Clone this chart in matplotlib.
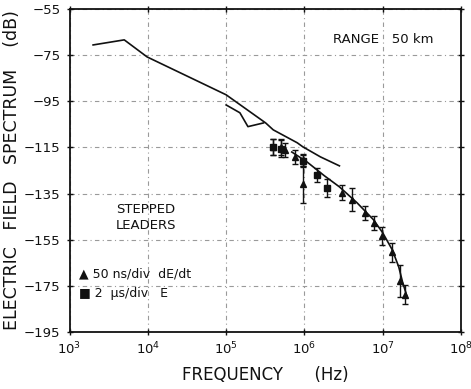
import matplotlib
matplotlib.use('Agg')
import matplotlib.pyplot as plt
from matplotlib.ticker import FixedLocator, LogLocator, NullLocator

# measured spectra (solid curves)
curve_a_f = [2.0e3, 5.0e3, 9.8e3, 1.0e5, 3.2e5, 4.0e5, 8.1e5, 9.5e5, 1.6e6, 2.8e6]
curve_a_db = [-70.6, -68.4, -75.8, -92.2, -104.4, -107.4, -113.0, -114.7, -119.1, -123.0]

curve_b_f = [1.0e5, 1.5e5, 1.9e5, 3.0e5]
curve_b_db = [-96.6, -100.0, -106.0, -104.4]

curve_c_f = [6.9e5, 1.07e6, 1.8e6, 2.8e6, 4.7e6, 7.6e6, 1.0e7, 1.32e7, 1.6e7, 1.8e7, 2.05e7]
curve_c_db = [-117.0, -121.2, -127.3, -132.1, -139.0, -146.3, -152.0, -159.3, -166.7, -173.6, -179.7]

# 50 ns/div dE/dt (triangles)
tri_f = [4.0e5, 5.0e5, 5.6e5, 7.6e5, 9.5e5, 9.5e5, 3.0e6, 4.1e6, 6.0e6, 7.8e6, 9.8e6, 1.32e7, 1.66e7, 1.9e7]
tri_db = [-115.0, -115.0, -116.0, -119.0, -120.5, -131.0, -134.7, -137.7, -143.3, -147.6, -153.5, -160.5, -173.0, -178.8]
tri_err = [3.5, 3.5, 3.0, 3.0, 2.5, 8.0, 3.2, 5.0, 3.0, 3.0, 4.0, 4.0, 7.0, 4.0]

# 2 us/div E (squares)
sq_f = [4.0e5, 5.0e5, 9.5e5, 1.45e6, 1.95e6]
sq_db = [-115.0, -115.5, -121.0, -127.0, -132.5]
sq_err = [3.5, 3.5, 2.5, 3.0, 4.0]

INK = "#111111"
GRID = "#9a9a9a"

fig = plt.figure(figsize=(4.71, 3.89), dpi=100, facecolor="white")
ax = fig.add_axes([0.1476, 0.1465, 0.8312, 0.8305])
ax.set_xscale("log")
ax.set_xlim(1e3, 1e8)
ax.set_ylim(-195, -55)

ax.plot(curve_a_f, curve_a_db, color=INK, lw=1.2, zorder=3)
ax.plot(curve_b_f, curve_b_db, color=INK, lw=1.2, zorder=3)
ax.plot(curve_c_f, curve_c_db, color=INK, lw=1.2, zorder=3)

ax.errorbar(tri_f, tri_db, yerr=tri_err, fmt="^", ms=5, color=INK,
            ecolor=INK, elinewidth=1.0, capsize=2.5, capthick=1.0, zorder=4)
ax.errorbar(sq_f, sq_db, yerr=sq_err, fmt="s", ms=5, color=INK,
            ecolor=INK, elinewidth=1.0, capsize=2.5, capthick=1.0, zorder=4)

ax.xaxis.set_major_locator(LogLocator(base=10, numticks=10))
ax.xaxis.set_minor_locator(NullLocator())
ax.yaxis.set_major_locator(FixedLocator(range(-195, -54, 20)))
ax.grid(True, which="major", color=GRID, lw=0.8, ls=(0, (4, 3, 1, 3)))
ax.tick_params(direction="inout", length=5, width=1.0, colors=INK,
               labelsize=9.5, top=True, right=True, pad=4)
for s in ax.spines.values():
    s.set_linewidth(1.3)
    s.set_color(INK)

ax.set_xlabel("FREQUENCY      (Hz)", fontsize=12, color=INK, labelpad=6)
ax.set_ylabel("ELECTRIC   FIELD   SPECTRUM    (dB)", fontsize=12.5, color=INK,
              labelpad=2)

ax.text(0.93, 0.905, "RANGE   50 km", transform=ax.transAxes, ha="right",
        va="center", fontsize=9.5, color=INK)
ax.text(0.195, 0.355, "STEPPED\nLEADERS", transform=ax.transAxes, ha="center",
        va="center", fontsize=9.5, color=INK, linespacing=1.3)
ax.text(0.025, 0.18, "\u25b2 50 ns/div  dE/dt", transform=ax.transAxes,
        ha="left", va="center", fontsize=9, color=INK)
ax.text(0.025, 0.12, "\u25a0 2  \u03bcs/div   E", transform=ax.transAxes,
        ha="left", va="center", fontsize=9, color=INK)

fig.savefig("out.png", dpi=100, facecolor="white")
